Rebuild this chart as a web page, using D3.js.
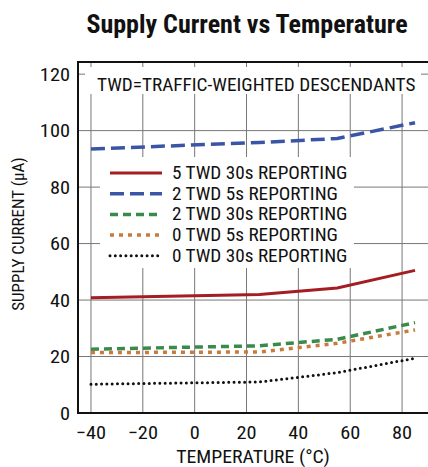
<!DOCTYPE html>
<html>
<head>
<meta charset="utf-8">
<script src="https://cdn.jsdelivr.net/npm/d3@7"></script>
<style>
  body { margin: 0; background: #fff; }
  text { font-family: "Liberation Sans Narrow", "Roboto Condensed", "Liberation Sans", Arial, sans-serif; fill: #111; }
</style>
</head>
<body>
<div id="chart"></div>
<script>
// data (temperature in °C, current in µA)
var temps = [-40, 25, 55, 85];
var seriesNames = ["5 TWD 30s REPORTING", "2 TWD 5s REPORTING", "2 TWD 30s REPORTING", "0 TWD 5s REPORTING", "0 TWD 30s REPORTING"];
var red5x30 = [40.8, 42.0, 44.3, 50.5];
var blue2x5 = [93.5, 95.8, 97.2, 102.8];
var green2x30 = [22.6, 23.8, 26.1, 32.0];
var orange0x5 = [21.4, 21.6, 24.7, 29.4];
var black0x30 = [10.2, 11.0, 14.3, 19.4];
var xTicks = [-40, -20, 0, 20, 40, 60, 80];
var yTicks = [0, 20, 40, 60, 80, 100, 120];

var W = 428, H = 467;
var margin = {top: 62, right: 0, bottom: 54, left: 78};
var stretch = 1.1; // the original font is wider than the narrow one we have

var svg = d3.select("#chart").append("svg")
    .attr("width", W)
    .attr("height", H);

var x = d3.scaleLinear().domain([-45, 90]).range([margin.left, W - margin.right]);
var y = d3.scaleLinear().domain([0, 124.3]).range([H - margin.bottom, margin.top]);

// helper: text placed at (px,py), stretched horizontally
function label(g, px, py, size, anchor, str) {
    return g.append("text")
        .attr("transform", "translate(" + px + "," + py + ") scale(" + stretch + ",1)")
        .attr("text-anchor", anchor)
        .style("font-size", size + "px")
        .text(str);
}

// grid
svg.append("g")
    .selectAll("line")
    .data(xTicks)
    .enter().append("line")
    .attr("x1", d => x(d)).attr("x2", d => x(d))
    .attr("y1", y(0)).attr("y2", margin.top)
    .attr("stroke", d => d === -40 ? "#aaa" : "#777")
    .attr("stroke-width", d => d === -40 ? 1.6 : 1);

svg.append("g")
    .selectAll("line")
    .data(yTicks.slice(1))
    .enter().append("line")
    .attr("x1", margin.left).attr("x2", W)
    .attr("y1", d => y(d)).attr("y2", d => y(d))
    .attr("stroke", "#777")
    .attr("stroke-width", 1);

// white boxes hiding the grid behind the notes
svg.append("rect").attr("x", 85).attr("y", 67).attr("width", 336).attr("height", 27).attr("fill", "#fff");
svg.append("rect").attr("x", 100).attr("y", 157).attr("width", 254).attr("height", 111).attr("fill", "#fff");

// frame
svg.append("path")
    .attr("d", "M" + W + "," + margin.top + "H" + margin.left + "V" + y(0) + "H" + W)
    .attr("fill", "none")
    .attr("stroke", "#111")
    .attr("stroke-width", 2);

// axes labels
var fmt = d => d < 0 ? "\u2212" + Math.abs(d) : String(d);

var gx = svg.append("g");
xTicks.forEach(d => label(gx, x(d), 439, 18.5, "middle", fmt(d)));

var gy = svg.append("g");
yTicks.forEach(d => label(gy, 70, y(d) + 6.5, 18.5, "end", fmt(d)));

label(svg, 253, 463, 18, "middle", "TEMPERATURE (°C)");

svg.append("text")
    .attr("transform", "translate(24,234) rotate(-90)")
    .attr("text-anchor", "middle")
    .style("font-size", "17px")
    .text("SUPPLY CURRENT (\u03bcA)");

svg.append("text")
    .attr("x", 247).attr("y", 33)
    .attr("text-anchor", "middle")
    .style("font-size", "26px")
    .style("font-weight", "bold")
    .text("Supply Current vs Temperature");

label(svg, 97, 91, 17.5, "start", "TWD=TRAFFIC-WEIGHTED DESCENDANTS");

// series
var styles = [
    {color: "#a51d24", dash: null, width: 3, cap: "butt"},
    {color: "#3b55a6", dash: "14,6", width: 3.5, cap: "butt"},
    {color: "#3a8a4c", dash: "8,5", width: 3.5, cap: "butt"},
    {color: "#c77b3c", dash: "4,5", width: 3.5, cap: "butt"},
    {color: "#111", dash: "0,5.3", width: 3, cap: "round"}
];
var allSeries = [red5x30, blue2x5, green2x30, orange0x5, black0x30];

var line = d3.line()
    .x((d, i) => x(temps[i]))
    .y(d => y(d));

svg.append("g")
    .selectAll("path")
    .data(allSeries)
    .enter().append("path")
    .attr("d", line)
    .attr("fill", "none")
    .attr("stroke", (d, i) => styles[i].color)
    .attr("stroke-width", (d, i) => styles[i].width)
    .attr("stroke-dasharray", (d, i) => styles[i].dash)
    .attr("stroke-linecap", (d, i) => styles[i].cap);

// legend
var legend = svg.append("g");
seriesNames.forEach(function(name, i) {
    var ly = 173 + i * 20.7;
    legend.append("line")
        .attr("x1", 110).attr("x2", 162)
        .attr("y1", ly).attr("y2", ly)
        .attr("stroke", styles[i].color)
        .attr("stroke-width", styles[i].width)
        .attr("stroke-dasharray", styles[i].dash)
        .attr("stroke-linecap", styles[i].cap);
    label(legend, 172, ly + 6, 17.5, "start", name);
});
</script>
</body>
</html>
